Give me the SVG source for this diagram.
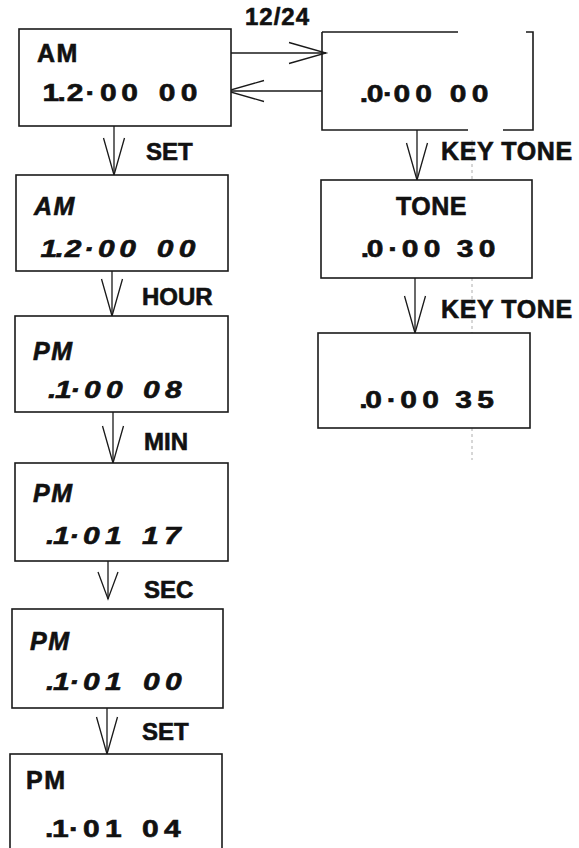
<svg xmlns="http://www.w3.org/2000/svg" width="579" height="848" viewBox="0 0 579 848">
<defs>
<style>
.box{fill:#fff;stroke:#1a1a1a;stroke-width:1.6}
.edge{fill:none;stroke:#1a1a1a;stroke-width:1.3}
text{font-family:"Liberation Sans",Arial,sans-serif;font-weight:bold;fill:#111;stroke:#111;stroke-width:0.6}
.d{font-size:24px}
.t{font-size:25px;letter-spacing:1.5px}
.i{font-style:italic}
.lbl{font-size:24px}
.kt{font-size:25px;letter-spacing:0.6px}
.scan{fill:none;stroke:#9a9a9a;stroke-width:0.8;stroke-dasharray:3 3}
</style>
<marker id="v" markerUnits="userSpaceOnUse" markerWidth="44" markerHeight="26" viewBox="-40 -13 44 26" refX="0" refY="0" orient="auto" overflow="visible">
<path d="M-37,-10.5 L0,0 L-37,10.5" fill="none" stroke="#1a1a1a" stroke-width="1.3"/>
</marker>
<marker id="vs" markerUnits="userSpaceOnUse" markerWidth="44" markerHeight="26" viewBox="-40 -13 44 26" refX="0" refY="0" orient="auto" overflow="visible">
<path d="M-27,-10 L0,0 L-27,10" fill="none" stroke="#1a1a1a" stroke-width="1.3"/>
</marker>
</defs>
<rect width="579" height="848" fill="#fff"/>
<line class="scan" x1="472" y1="140" x2="472" y2="460"/>

<g id="connectors">
<line class="edge" x1="231" y1="53" x2="326" y2="53" marker-end="url(#v)"/>
<line class="edge" x1="322" y1="91" x2="227" y2="91" marker-end="url(#v)"/>
<line class="edge" x1="114" y1="126" x2="114" y2="175" marker-end="url(#v)"/>
<line class="edge" x1="112" y1="271" x2="112" y2="316" marker-end="url(#v)"/>
<line class="edge" x1="113" y1="412" x2="113" y2="463" marker-end="url(#v)"/>
<line class="edge" x1="108" y1="561" x2="108" y2="599" marker-end="url(#vs)"/>
<line class="edge" x1="107" y1="708" x2="107" y2="754" marker-end="url(#v)"/>
<line class="edge" x1="417" y1="130" x2="417" y2="180" marker-end="url(#v)"/>
<line class="edge" x1="415" y1="278" x2="415" y2="333" marker-end="url(#v)"/>
<text class="lbl" x="245" y="25" letter-spacing="1">12/24</text>
<text class="lbl" x="146" y="160">SET</text>
<text class="lbl" x="142" y="305">HOUR</text>
<text class="lbl" x="144" y="450">MIN</text>
<text class="lbl" x="144" y="598">SEC</text>
<text class="lbl" x="142" y="740">SET</text>
<text class="kt" x="441" y="160">KEY TONE</text>
<text class="kt" x="441" y="318">KEY TONE</text>
</g>

<g id="clock-am">
<rect class="box" x="19" y="29" width="212" height="97"/>
<text class="t" x="37" y="62">AM</text>
<text class="d" transform="scale(1.25,1)" y="101" x="34 46 53.5 68.5 80 97 112 127.0 144.6">1.2·00 00</text>
</g>

<g id="mode-24">
<path class="box" d="M322,32 H458 M526,32 H533 V130 H503 M468,130 H322 V32" style="fill:none"/>
<text class="d" transform="scale(1.25,1)" y="102" x="287.9 293.4 306.5 314.8 332.2 352 359.8 377.4">.0·00 00</text>
</g>

<g id="set-am">
<rect class="box" x="16" y="175" width="212" height="96"/>
<text class="t i" x="34" y="215">AM</text>
<text class="d i" transform="scale(1.25,1)" y="257" x="32.4 44.4 51.9 67 78.4 95.4 110.4 125.4 143.0">1.2·00 00</text>
</g>

<g id="hour-pm">
<rect class="box" x="15" y="316" width="213" height="96"/>
<text class="t i" x="33" y="360">PM</text>
<text class="d i" transform="scale(1.25,1)" y="398" x="38.4 44 56 67.2 84.8 102.4 114.4 132">.1·00 08</text>
</g>

<g id="min-pm">
<rect class="box" x="15" y="463" width="213" height="98"/>
<text class="t i" x="33" y="502">PM</text>
<text class="d i" transform="scale(1.25,1)" y="544" x="36.8 42.4 55.2 66.4 84 100 113.6 131.2">.1·01 17</text>
</g>

<g id="sec-pm">
<rect class="box" x="12" y="609" width="211" height="99"/>
<text class="t i" x="30" y="650">PM</text>
<text class="d i" transform="scale(1.25,1)" y="690" x="36.8 42.4 55.2 66.4 84 100 114.4 132">.1·01 00</text>
</g>

<g id="set-pm">
<rect class="box" x="10" y="754" width="212" height="110"/>
<text class="t" x="26" y="789">PM</text>
<text class="d" transform="scale(1.25,1)" y="837" x="36 41.6 55.2 66.4 84 100 113.6 131.2">.1·01 04</text>
</g>

<g id="tone">
<rect class="box" x="321" y="180" width="211" height="98"/>
<text class="t" x="396" y="215" style="letter-spacing:0.5px">TONE</text>
<text class="d" transform="scale(1.25,1)" y="257" x="288.7 293.4 310.6 321.4 339.0 356 365.4 383.0">.0·00 30</text>
</g>

<g id="tone-35">
<rect class="box" x="318" y="333" width="212" height="95"/>
<text class="d" transform="scale(1.25,1)" y="408" x="287.5 292.2 309.4 320.2 337.8 354.8 364.2 381.8">.0·00 35</text>
</g>
</svg>
